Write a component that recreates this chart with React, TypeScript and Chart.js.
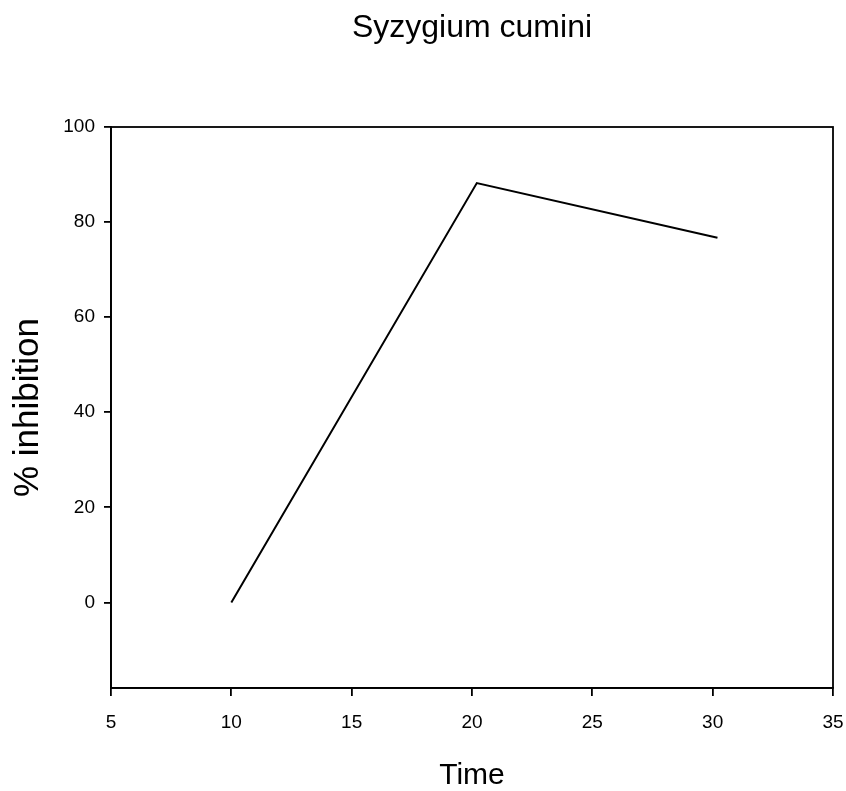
import React, { useEffect, useRef } from "react";
import { Chart, registerables } from "chart.js";

Chart.register(...registerables);

// Time points and measured % inhibition
const timeValues = [10, 20.2, 30.2];
const inhibitionValues = [0, 88.2, 76.7];

// Axis tick labels
const xTickValues = [5, 10, 15, 20, 25, 30, 35];
const yTickValues = [0, 20, 40, 60, 80, 100];

const chartTitle = "Syzygium cumini";
const xAxisTitle = "Time";
const yAxisTitle = "% inhibition";

const FONT = "'Liberation Sans', Arial, Helvetica, sans-serif";
const W = 846;
const H = 791;

// Closes the plot frame with top and right edges
const framePlugin = {
  id: "plotFrame",
  afterDraw(chart: any) {
    const { ctx, chartArea } = chart;
    ctx.save();
    ctx.strokeStyle = "#000";
    ctx.lineWidth = 1.8;
    ctx.strokeRect(
      chartArea.left,
      chartArea.top,
      chartArea.right - chartArea.left,
      chartArea.bottom - chartArea.top
    );
    ctx.restore();
  },
};

export default function App() {
  const canvasRef = useRef<HTMLCanvasElement | null>(null);

  useEffect(() => {
    const canvas = canvasRef.current;
    if (!canvas) return;
    const chart = new Chart(canvas, {
      type: "line",
      data: {
        datasets: [
          {
            data: timeValues.map((t, i) => ({ x: t, y: inhibitionValues[i] })),
            borderColor: "#000",
            borderWidth: 2,
            pointRadius: 0,
            fill: false,
            tension: 0,
          },
        ],
      },
      options: {
        responsive: false,
        animation: false,
        devicePixelRatio: 1,
        layout: { padding: { left: 0, right: 13, top: 0, bottom: 0 } },
        plugins: {
          legend: { display: false },
          tooltip: { enabled: false },
          title: {
            display: true,
            text: chartTitle,
            fullSize: false,
            color: "#000",
            font: { family: FONT, size: 32, weight: "normal", lineHeight: 1.2 },
            padding: { top: 8.5, bottom: 80.1 },
          },
        },
        scales: {
          x: {
            type: "linear",
            min: 5,
            max: 35,
            afterBuildTicks: (scale: any) => {
              scale.ticks = xTickValues.map((v) => ({ value: v }));
            },
            afterFit: (scale: any) => {
              scale.height = 103;
              scale.paddingLeft = 0;
              scale.paddingRight = 0;
            },
            border: { display: true, color: "#000", width: 1.8 },
            grid: {
              display: true,
              drawOnChartArea: false,
              drawTicks: true,
              tickLength: 8,
              color: "#000",
              lineWidth: 1.8,
            },
            ticks: {
              color: "#000",
              padding: 15,
              font: { family: FONT, size: 19 },
              maxRotation: 0,
              autoSkip: false,
            },
            title: {
              display: true,
              text: xAxisTitle,
              color: "#000",
              font: { family: FONT, size: 30, lineHeight: 1 },
              padding: { top: 0, bottom: 0.5 },
            },
          },
          y: {
            type: "linear",
            min: -18,
            max: 100,
            afterBuildTicks: (scale: any) => {
              scale.ticks = yTickValues.map((v) => ({ value: v }));
            },
            afterFit: (scale: any) => {
              scale.width = 111;
              scale.paddingTop = 0;
              scale.paddingBottom = 0;
            },
            border: { display: true, color: "#000", width: 1.8 },
            grid: {
              display: true,
              drawOnChartArea: false,
              drawTicks: true,
              tickLength: 7,
              color: "#000",
              lineWidth: 1.8,
            },
            ticks: {
              color: "#000",
              padding: 9,
              font: { family: FONT, size: 19 },
              autoSkip: false,
            },
            title: {
              display: true,
              text: yAxisTitle,
              color: "#000",
              font: { family: FONT, size: 35, lineHeight: 1 },
              padding: { top: 11, bottom: 0 },
            },
          },
        },
      },
      plugins: [framePlugin],
    } as any);
    return () => chart.destroy();
  }, []);

  return (
    <div style={{ position: "fixed", left: 0, top: 0, width: W, height: H, background: "#fff" }}>
      <canvas ref={canvasRef} width={W} height={H} style={{ width: W, height: H, display: "block" }} />
    </div>
  );
}
